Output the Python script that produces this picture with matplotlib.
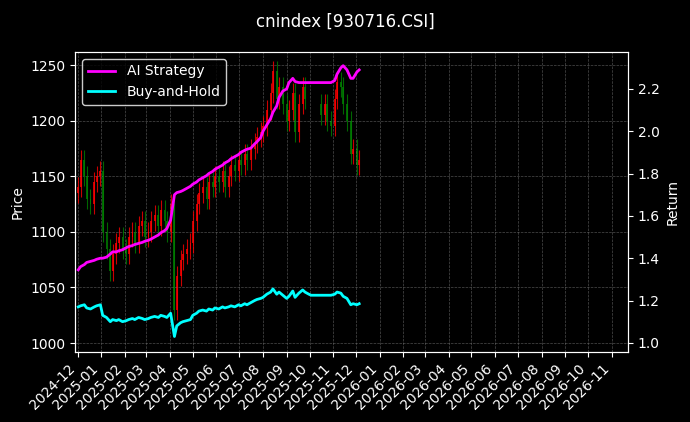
import matplotlib
matplotlib.use("Agg")
import matplotlib.pyplot as plt
import matplotlib.dates as mdates
import numpy as np
import pandas as pd

close = [1140, 1165, 1150, 1130, 1125, 1145, 1150, 1155,
         1100, 1085, 1065, 1080, 1090, 1095, 1085,
         1080, 1095, 1100, 1090, 1105, 1110, 1095,
         1100, 1110, 1115, 1105, 1120, 1110, 1100,
         1125, 1030, 1060, 1075, 1080, 1085, 1090,
         1110, 1125, 1135, 1140, 1130, 1145, 1140, 1150,
         1145, 1155, 1140, 1150, 1160, 1155, 1165,
         1160, 1170, 1165, 1175, 1180, 1185, 1190,
         1195, 1210, 1225, 1245, 1220, 1230, 1215,
         1200, 1210, 1225, 1190, 1215, 1230, 1220, 1210,
         1215, 1215, 1215, 1205, 1215, 1200, 1195,
         1220, 1235, 1230, 1215, 1200, 1170, 1175,
         1160, 1165]
ai_strategy = [1.345, 1.36, 1.37, 1.38, 1.385, 1.39, 1.395, 1.40,
               1.40, 1.405, 1.42, 1.43, 1.43, 1.435, 1.44,
               1.45, 1.455, 1.46, 1.465, 1.47, 1.475, 1.48,
               1.485, 1.49, 1.50, 1.51, 1.52, 1.53, 1.54,
               1.58, 1.70, 1.71, 1.715, 1.72, 1.73, 1.74,
               1.75, 1.76, 1.77, 1.78, 1.79, 1.80, 1.81, 1.82,
               1.83, 1.84, 1.85, 1.86, 1.87, 1.88, 1.89,
               1.90, 1.91, 1.915, 1.92, 1.94, 1.95, 1.97,
               2.00, 2.03, 2.06, 2.09, 2.12, 2.16, 2.19,
               2.20, 2.23, 2.25, 2.235, 2.23, 2.23, 2.23, 2.23,
               2.23, 2.23, 2.23, 2.23, 2.23, 2.23, 2.23,
               2.24, 2.27, 2.30, 2.31, 2.29, 2.25, 2.25,
               2.28, 2.29]
buy_hold = [1.17, 1.175, 1.18, 1.165, 1.16, 1.17, 1.175, 1.18,
            1.13, 1.12, 1.10, 1.11, 1.105, 1.11, 1.10,
            1.105, 1.11, 1.115, 1.11, 1.12, 1.115, 1.11,
            1.115, 1.12, 1.125, 1.12, 1.13, 1.125, 1.12,
            1.14, 1.03, 1.08, 1.095, 1.10, 1.105, 1.11,
            1.13, 1.14, 1.15, 1.155, 1.15, 1.16, 1.155, 1.165,
            1.16, 1.17, 1.165, 1.17, 1.175, 1.17, 1.18,
            1.175, 1.185, 1.18, 1.19, 1.20, 1.205, 1.21,
            1.215, 1.23, 1.24, 1.255, 1.23, 1.24, 1.225,
            1.21, 1.22, 1.245, 1.215, 1.235, 1.25, 1.24, 1.23,
            1.225, 1.225, 1.225, 1.225, 1.225, 1.225, 1.225,
            1.23, 1.24, 1.235, 1.22, 1.21, 1.18, 1.185,
            1.18, 1.185]

dates = pd.bdate_range("2024-12-02", periods=len(close), freq="3B")
close = np.array(close, dtype=float)
opens = np.concatenate([[1135.0], close[:-1]])
# no price data around the national holiday
gap = (dates > "2025-09-26") & (dates < "2025-10-15")

plt.style.use("dark_background")
fig = plt.figure(figsize=(6.9, 4.22), dpi=100)
ax = fig.add_axes([0.109, 0.166, 0.801, 0.711])
ax.set_facecolor("black")

for d, o, c, g in zip(dates, opens, close, gap):
    if g:
        continue
    col = "red" if c >= o else "green"
    ax.vlines(d, min(o, c) - 9, max(o, c) + 9, color=col, lw=0.8, alpha=0.8)
    ax.bar(d, max(abs(c - o), 1), bottom=min(o, c), width=2.5, color=col, alpha=0.8)

ax.set_ylim(992, 1262)
ax.set_ylabel("Price")
ax.grid(True, color="gray", ls="--", lw=0.5, alpha=0.6)

ax2 = ax.twinx()
ax2.plot(dates, ai_strategy, color="magenta", lw=2, label="AI Strategy")
ax2.plot(dates, buy_hold, color="cyan", lw=2, label="Buy-and-Hold")
ax2.set_ylim(0.957, 2.375)
ax2.set_ylabel("Return")
ax2.legend(loc="upper left", facecolor="black", edgecolor="white")

ax.set_xlim(pd.Timestamp("2024-11-28"), pd.Timestamp("2026-11-22"))
ax.xaxis.set_major_locator(mdates.MonthLocator())
ax.xaxis.set_major_formatter(mdates.DateFormatter("%Y-%m"))
plt.setp(ax.get_xticklabels(), rotation=45, ha="right")

fig.suptitle("cnindex [930716.CSI]", y=0.97)
fig.savefig("out.png", dpi=100, facecolor="black")
